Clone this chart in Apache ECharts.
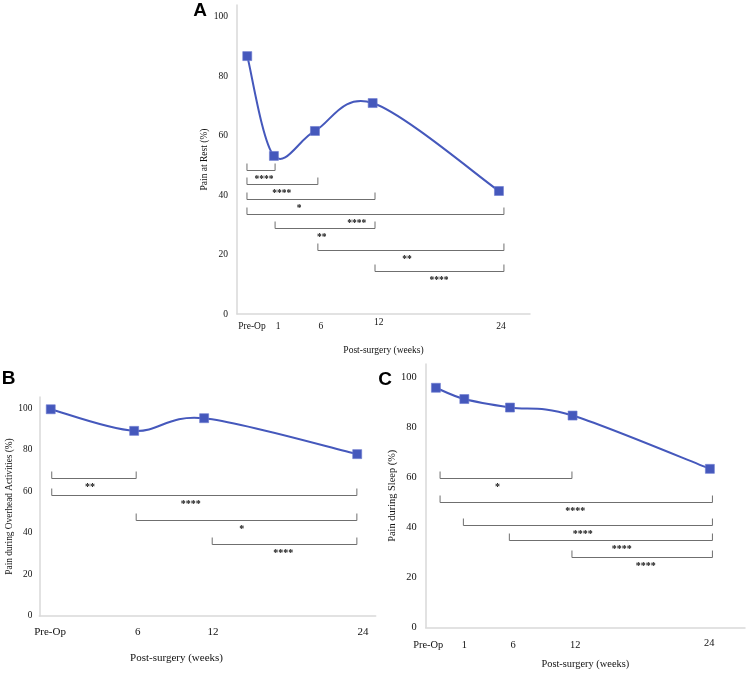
<!DOCTYPE html>
<html>
<head>
<meta charset="utf-8">
<script src="https://cdn.jsdelivr.net/npm/echarts@6/dist/echarts.min.js"></script>
<style>
html, body {margin: 0; padding: 0; background: #fff;}
#chart {width: 747px; height: 673px;}
</style>
</head>
<body>
<div id="chart"></div>
<script>
// time points of each panel
var timeA = ['Pre-Op', '1', '6', '12', '24'];
var timeB = ['Pre-Op', '6', '12', '24'];
var timeC = ['Pre-Op', '1', '6', '12', '24'];

// pain (%)
var restA = [86.8, 53.2, 61.6, 71.0, 41.4];
var overheadB = [99.5, 89.1, 95.2, 77.9];
var sleepC = [95.8, 91.3, 87.9, 84.7, 63.4];

// the figure's time axis is not to scale: where each time point sits on a 0-100 axis
var pointXA = [3.5, 12.6, 26.6, 46.3, 89.4];
var labelXA = [5.1, 14.0, 28.6, 48.4, 90.1];
var bracketXA = [3.4, 13.0, 27.6, 47.1, 91.1];

var pointXB = [3.4, 28.2, 49.0, 94.5];
var labelXB = [3.2, 29.3, 51.6, 96.2];
var bracketXB = [3.7, 28.8, 51.4, 94.4];

var pointXC = [3.2, 12.1, 26.4, 46.0, 89.0];
var labelXC = [0.8, 12.1, 27.4, 46.8, 88.8];
var bracketXC = [4.5, 11.8, 26.2, 45.8, 89.8];

// significance brackets: [from, to, level (%), stars x, stars]
var compsA = [
    [0, 1, 48.4, 9.2, '****'],
    [0, 2, 43.6, 15.3, '****'],
    [0, 3, 38.7, 21.2, '*'],
    [0, 4, 33.8, 40.9, '****'],
    [1, 3, 29.0, 28.9, '**'],
    [2, 4, 21.7, 58.0, '**'],
    [3, 4, 14.6, 68.9, '****']
];
var compsB = [
    [0, 1, 66.3, 15.1, '**'],
    [0, 3, 58.3, 45.0, '****'],
    [1, 3, 46.2, 60.2, '*'],
    [2, 3, 34.5, 72.5, '****']
];
var compsC = [
    [0, 3, 59.6, 22.5, '*'],
    [0, 4, 50.3, 46.8, '****'],
    [1, 4, 41.0, 49.2, '****'],
    [2, 4, 35.0, 61.4, '****'],
    [3, 4, 28.3, 68.9, '****']
];

var yTicks = [0, 20, 40, 60, 80, 100];

var BLUE = '#4558bc';
var SERIF = '"Liberation Serif", "Times New Roman", serif';
var AXIS_GREY = '#d9d9d9';

// spreadsheet-style smoothed line: one cubic segment per pair of points,
// control points from the neighbours (Catmull-Rom, 1/6)
function curveSeries(idx, xs, ys) {
    var pts = ys.map(function (v, i) { return [xs[i], v]; });
    return {
        type: 'custom',
        xAxisIndex: idx,
        yAxisIndex: idx,
        silent: true,
        z: 3,
        data: pts.slice(0, -1).map(function (p, i) { return [p[0], p[1], i]; }),
        renderItem: function (params, api) {
            var i = params.dataIndex;
            var n = pts.length;
            var c = pts.map(function (p) { return api.coord(p); });
            var p0 = c[Math.max(i - 1, 0)], p1 = c[i], p2 = c[i + 1], p3 = c[Math.min(i + 2, n - 1)];
            return {
                type: 'bezierCurve',
                shape: {
                    x1: p1[0], y1: p1[1],
                    cpx1: p1[0] + (p2[0] - p0[0]) / 6, cpy1: p1[1] + (p2[1] - p0[1]) / 6,
                    cpx2: p2[0] - (p3[0] - p1[0]) / 6, cpy2: p2[1] - (p3[1] - p1[1]) / 6,
                    x2: p2[0], y2: p2[1]
                },
                style: {stroke: BLUE, lineWidth: 2, fill: null}
            };
        }
    };
}

function markerSeries(idx, xs, ys) {
    return {
        type: 'scatter',
        xAxisIndex: idx,
        yAxisIndex: idx,
        data: ys.map(function (v, i) { return [xs[i], v]; }),
        symbol: 'rect',
        symbolSize: 9,
        itemStyle: {color: BLUE, borderColor: '#6b7bd0', borderWidth: 0.6, opacity: 1},
        silent: true,
        z: 4
    };
}

function bracketSeries(idx, bx, comps, fs) {
    return {
        type: 'custom',
        xAxisIndex: idx,
        yAxisIndex: idx,
        silent: true,
        z: 2,
        data: comps.map(function (c) { return [bx[c[0]], bx[c[1]], c[2], c[3]]; }),
        renderItem: function (params, api) {
            var a = api.coord([api.value(0), api.value(2)]);
            var b = api.coord([api.value(1), api.value(2)]);
            var t = api.coord([api.value(3), api.value(2)]);
            var y = Math.round(a[1]) + 0.5;
            return {
                type: 'group',
                children: [{
                    type: 'polyline',
                    shape: {points: [[a[0], y - 7], [a[0], y], [b[0], y], [b[0], y - 7]]},
                    style: {stroke: '#6f6f6f', lineWidth: 1, fill: null}
                }, {
                    type: 'text',
                    x: t[0],
                    y: y + 4,
                    style: {
                        text: comps[params.dataIndex][4],
                        fill: '#111',
                        font: 'bold ' + fs + 'px ' + SERIF,
                        align: 'center',
                        verticalAlign: 'top'
                    }
                }]
            };
        }
    };
}

function xAxis(idx, labelX, names, fs, margin, nameGap, namePad, raised, lift) {
    return {
        type: 'value',
        gridIndex: idx,
        min: 0,
        max: 100,
        name: 'Post-surgery (weeks)',
        nameLocation: 'middle',
        nameGap: nameGap,
        nameTextStyle: {fontFamily: SERIF, fontSize: fs, color: '#111', padding: namePad},
        axisLine: {show: true, lineStyle: {color: AXIS_GREY, width: 1.5}},
        axisTick: {show: false},
        splitLine: {show: false},
        axisLabel: {
            customValues: labelX,
            margin: margin,
            fontFamily: SERIF,
            fontSize: fs,
            color: '#111',
            verticalAlign: 'middle',
            formatter: function (v) {
                var i = labelX.indexOf(v);
                if (i < 0) return '';
                return i === raised ? '{up|' + names[i] + '}' : names[i];
            },
            rich: {up: {fontFamily: SERIF, fontSize: fs, color: '#111', padding: [0, 0, lift, 0]}}
        }
    };
}

function yAxis(idx, max, title, fs, margin, nameGap) {
    return {
        type: 'value',
        gridIndex: idx,
        min: 0,
        max: max,
        interval: 20,
        name: title,
        nameLocation: 'middle',
        nameGap: nameGap,
        nameTextStyle: {fontFamily: SERIF, fontSize: fs, color: '#111'},
        axisLine: {show: true, lineStyle: {color: AXIS_GREY, width: 1.5}},
        axisTick: {show: false},
        splitLine: {show: false},
        axisLabel: {
            margin: margin,
            fontFamily: SERIF,
            fontSize: fs,
            color: '#111',
            formatter: function (v) { return yTicks.indexOf(v) >= 0 ? String(v) : ''; }
        }
    };
}

function letter(txt, x, y) {
    return {
        type: 'text',
        x: x,
        y: y,
        style: {
            text: txt,
            font: 'bold 19px "Liberation Sans", Arial, sans-serif',
            fill: '#000',
            align: 'center',
            verticalAlign: 'middle'
        }
    };
}

var chart = echarts.init(document.getElementById('chart'), null, {renderer: 'canvas'});
chart.setOption({
    backgroundColor: '#fff',
    animation: false,
    grid: [
        {left: 237, top: 5, width: 293, height: 309},
        {left: 39.3, top: 397, width: 336.4, height: 219},
        {left: 425.7, top: 364, width: 319.3, height: 263.5}
    ],
    xAxis: [
        xAxis(0, labelXA, timeA, 9.5, 12, 31, [0, 0, 0, 0], 3, 8),
        xAxis(1, labelXB, timeB, 11, 16, 37, [0, 62, 0, 0], -1, 0),
        xAxis(2, labelXC, timeC, 10.4, 18, 32, [0, 0, 0, 0], 4, 5)
    ],
    yAxis: [
        yAxis(0, 104, 'Pain at Rest (%)', 9.5, 9, 27),
        yAxis(1, 105.4, 'Pain during Overhead Activities (%)', 9.3, 7, 22),
        yAxis(2, 105.3, 'Pain during Sleep (%)', 10.4, 9, 28)
    ],
    series: [
        bracketSeries(0, bracketXA, compsA, 9.5),
        curveSeries(0, pointXA, restA),
        markerSeries(0, pointXA, restA),
        bracketSeries(1, bracketXB, compsB, 10),
        curveSeries(1, pointXB, overheadB),
        markerSeries(1, pointXB, overheadB),
        bracketSeries(2, bracketXC, compsC, 10),
        curveSeries(2, pointXC, sleepC),
        markerSeries(2, pointXC, sleepC)
    ],
    graphic: [
        letter('A', 200, 11),
        letter('B', 8.5, 379),
        letter('C', 385, 380)
    ]
});
</script>
</body>
</html>
